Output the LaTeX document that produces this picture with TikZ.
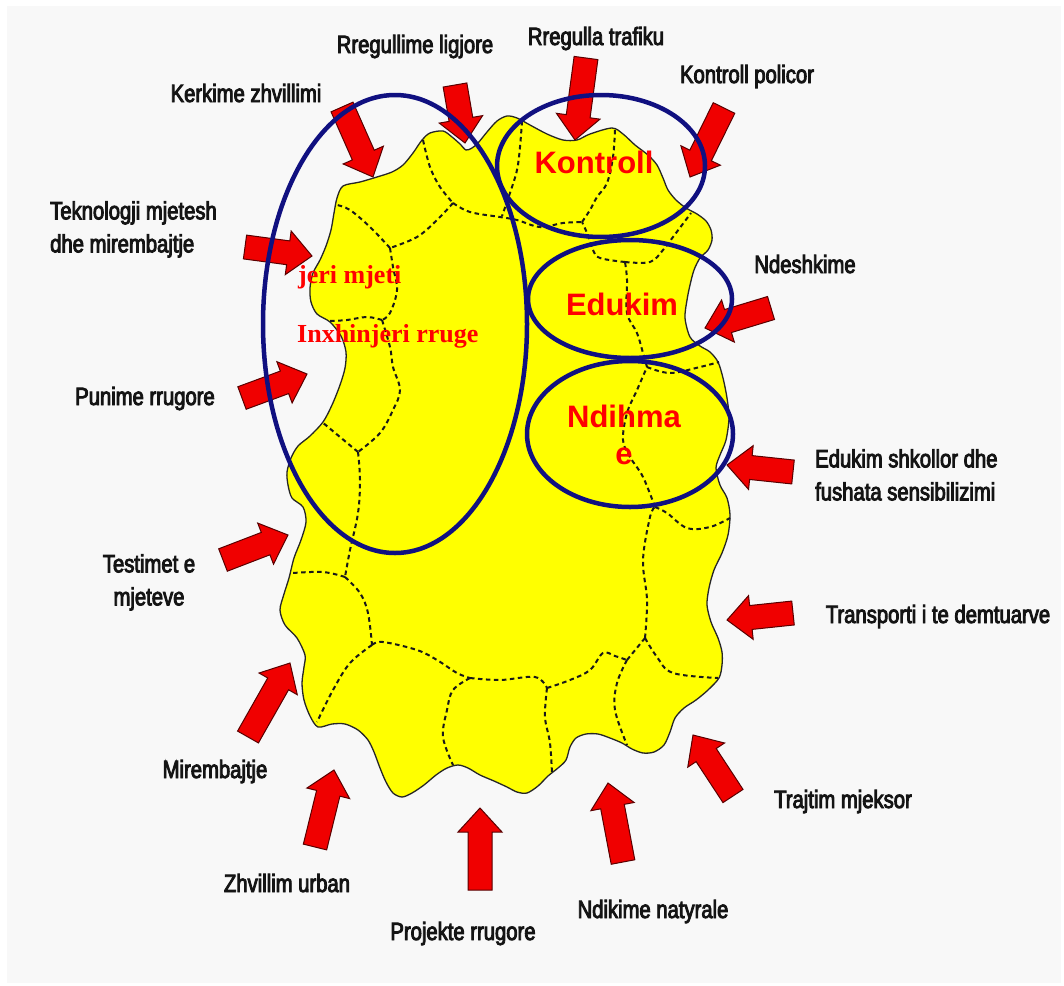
\documentclass[tikz,border=0pt]{standalone}
\usepackage{fontspec}
\setmainfont{Liberation Sans}
\newfontfamily\labfont{Liberation Sans}[FakeStretch=0.81,FakeBold=3.5]
\newfontfamily\serfont{Liberation Serif}
\usetikzlibrary{calc}
\definecolor{blobyellow}{RGB}{255,255,0}
\definecolor{navyring}{RGB}{16,16,128}
\definecolor{arrowred}{RGB}{240,0,0}
\definecolor{txtred}{RGB}{255,0,0}
\definecolor{bggray}{RGB}{248,248,248}
\definecolor{labblack}{RGB}{20,20,20}
\newcommand\blockarrow[2]{%
  \coordinate (#2b) at ($(#2)!24pt!(#1)$);
  \draw[arr] ($(#1)!12pt!90:(#2)$) -- ($(#2b)!12pt!90:(#2)$) -- ($(#2b)!22pt!90:(#2)$) -- (#2)
    -- ($(#2b)!22pt!-90:(#2)$) -- ($(#2b)!12pt!-90:(#2)$) -- ($(#1)!12pt!-90:(#2)$) -- cycle;
}
\begin{document}
\begin{tikzpicture}[x=1pt,y=-1pt,
  lab/.style={font={\labfont\fontsize{25}{33}\selectfont}, text=labblack, inner sep=0pt},
  redlab/.style={font={\bfseries\fontsize{31}{37}\selectfont}, text=txtred, inner sep=0pt},
  serlab/.style={font={\serfont\bfseries\fontsize{26}{30}\selectfont}, text=txtred, inner sep=0pt, anchor=base west},
  ring/.style={draw=navyring, line width=4.5pt},
  seam/.style={draw=black!90, line width=2pt, dash pattern=on 4.5pt off 3.5pt},
  blob/.style={fill=blobyellow, draw=black!85, line width=1.3pt},
  arr/.style={fill=arrowred, draw=black!65!red, line width=1pt, line join=miter}]
\useasboundingbox (0,0) rectangle (1064,985);
\fill[white] (0,0) rectangle (1064,985);
\fill[bggray] (7,6) rectangle (1061,983);

% yellow blob
\draw[blob] plot[smooth cycle, tension=0.5] coordinates {
(337,198) (343,186) (360,182) (377,177) (392,172) (403,165) (413,153) (422,140) (430,133) (443,131) (452,137) (460,144) (466,150) (472,148) (478,143) (487,132) (497,121) (507,116) (517,118) (530,125) (547,134) (563,140) (577,140) (590,134) (612,128) (623,134) (635,145) (648,155) (657,165) (663,178) (668,190) (676,200) (686,208) (697,214) (706,221) (711,230) (712,240) (708,250) (700,258) (694,270) (690,285) (687,300) (685,318) (690,337) (700,346) (710,352) (718,362) (723,378) (727,398) (729,418) (726,440) (720,455) (716,468) (720,485) (727,498) (730,515) (728,535) (722,553) (714,570) (709,588) (707,605) (711,622) (718,638) (722,652) (722,665) (719,678) (708,690) (696,700) (684,708) (675,718) (670,732) (664,745) (654,752) (643,753) (632,749) (622,743) (610,738) (598,734) (586,734) (576,738) (570,747) (566,760) (558,768) (548,776) (538,786) (527,793) (517,792) (507,787) (494,781) (480,775) (468,768) (458,765) (447,768) (436,775) (424,785) (412,793) (402,797) (393,793) (386,782) (380,768) (374,752) (368,740) (358,730) (345,724) (332,724) (318,727) (310,716) (304,700) (302,683) (304,667) (305,655) (297,638) (285,625) (280,610) (284,594) (289,578) (294,558) (301,540) (306,522) (303,507) (292,498) (288,485) (287,472) (291,458) (298,446) (310,436) (323,422) (332,405) (340,385) (345,368) (346,352) (341,336) (330,322) (317,314) (311,302) (310,288) (313,273) (320,260) (326,246) (331,230) (334,213)};

% dashed seams
\draw[seam] plot[smooth, tension=0.6] coordinates {(423,140) (430,167) (440,187) (453,203)};
\draw[seam] plot[smooth, tension=0.6] coordinates {(453,203) (470,212) (500,217) (517,220) (540,227) (563,223) (582,222)};
\draw[seam] plot[smooth, tension=0.6] coordinates {(453,203) (437,220) (417,237) (390,248)};
\draw[seam] plot[smooth, tension=0.6] coordinates {(390,248) (370,227) (350,210) (337,205)};
\draw[seam] plot[smooth, tension=0.6] coordinates {(390,248) (393,267) (397,290) (390,313) (382,320)};
\draw[seam] plot[smooth, tension=0.6] coordinates {(382,320) (367,317) (347,320) (330,321)};
\draw[seam] plot[smooth, tension=0.6] coordinates {(382,320) (390,347) (393,367) (400,390) (393,410) (380,433) (358,452)};
\draw[seam] plot[smooth, tension=0.6] coordinates {(358,452) (340,437) (322,422)};
\draw[seam] plot[smooth, tension=0.6] coordinates {(358,452) (360,480) (358,513) (350,550) (345,577)};
\draw[seam] plot[smooth, tension=0.6] coordinates {(345,577) (323,572) (293,573)};
\draw[seam] plot[smooth, tension=0.6] coordinates {(345,577) (360,593) (368,613) (372,645)};
\draw[seam] plot[smooth, tension=0.6] coordinates {(372,645) (350,663) (333,690) (317,722)};
\draw[seam] plot[smooth, tension=0.6] coordinates {(372,645) (383,642) (417,650) (437,660) (457,673) (470,678)};
\draw[seam] plot[smooth, tension=0.6] coordinates {(470,678) (453,690) (447,710) (443,737) (453,765)};
\draw[seam] plot[smooth, tension=0.6] coordinates {(470,678) (500,680) (535,677) (547,688)};
\draw[seam] plot[smooth, tension=0.6] coordinates {(547,688) (545,717) (550,743) (552,774)};
\draw[seam] plot[smooth, tension=0.6] coordinates {(547,688) (570,680) (590,670) (603,653) (615,656) (627,660)};
\draw[seam] plot[smooth, tension=0.6] coordinates {(627,660) (617,683) (615,710) (627,745)};
\draw[seam] plot[smooth, tension=0.6] coordinates {(627,660) (636,649) (645,638)};
\draw[seam] plot[smooth, tension=0.6] coordinates {(645,638) (657,657) (673,673) (718,678)};
\draw[seam] plot[smooth, tension=0.6] coordinates {(645,638) (647,600) (643,560) (650,517) (655,507)};
\draw[seam] plot[smooth, tension=0.6] coordinates {(655,507) (667,513) (687,528) (710,527) (730,518)};
\draw[seam] plot[smooth, tension=0.6] coordinates {(655,507) (643,477) (630,457) (623,440) (627,413) (637,390) (647,367)};
\draw[seam] plot[smooth, tension=0.6] coordinates {(647,367) (670,373) (700,367) (719,362)};
\draw[seam] plot[smooth, tension=0.6] coordinates {(647,367) (643,353) (637,333) (627,313) (627,280) (625,262)};
\draw[seam] plot[smooth, tension=0.6] coordinates {(625,262) (600,258) (593,250) (587,233) (582,222)};
\draw[seam] plot[smooth, tension=0.6] coordinates {(625,262) (650,262) (663,250) (673,237) (691,213)};
\draw[seam] plot[smooth, tension=0.6] coordinates {(582,222) (590,210) (597,197) (607,183) (613,157) (615,129)};
\draw[seam] plot[smooth, tension=0.6] coordinates {(522,121) (520,147) (517,170) (510,193) (502,216)};

% arrows
\coordinate (kerkT) at (342,107);  \coordinate (kerkH) at (373,177);
\coordinate (rligT) at (455,85);   \coordinate (rligH) at (465,143);
\coordinate (rtrfT) at (586,58);   \coordinate (rtrfH) at (575,140);
\coordinate (kpolT) at (724,108);  \coordinate (kpolH) at (690,177);
\coordinate (teknT) at (245,247);  \coordinate (teknH) at (312,256);
\coordinate (ndesT) at (771,308);  \coordinate (ndesH) at (705,328);
\coordinate (punT) at (242,398);   \coordinate (punH) at (307,374);
\coordinate (edukT) at (793,472);  \coordinate (edukH) at (727,465);
\coordinate (testT) at (223,560);  \coordinate (testH) at (288,535);
\coordinate (trspT) at (793,613);  \coordinate (trspH) at (727,620);
\coordinate (mirT) at (248,737);   \coordinate (mirH) at (290,663);
\coordinate (trajT) at (733,796);  \coordinate (trajH) at (693,735);
\coordinate (zhvT) at (315,847);   \coordinate (zhvH) at (334,770);
\coordinate (projT) at (480,890);  \coordinate (projH) at (480,808);
\coordinate (ndikT) at (623,862);  \coordinate (ndikH) at (608,783);
\blockarrow{kerkT}{kerkH}
\blockarrow{rligT}{rligH}
\blockarrow{rtrfT}{rtrfH}
\blockarrow{kpolT}{kpolH}
\blockarrow{teknT}{teknH}
\blockarrow{ndesT}{ndesH}
\blockarrow{punT}{punH}
\blockarrow{edukT}{edukH}
\blockarrow{testT}{testH}
\blockarrow{trspT}{trspH}
\blockarrow{mirT}{mirH}
\blockarrow{trajT}{trajH}
\blockarrow{zhvT}{zhvH}
\blockarrow{projT}{projH}
\blockarrow{ndikT}{ndikH}

% labels
\node[lab, anchor=base] (lkerk) at (246,102) {Kerkime zhvillimi};
\node[lab, anchor=base] (lrlig) at (415,53) {Rregullime ligjore};
\node[lab, anchor=base] (lrtrf) at (596,45) {Rregulla trafiku};
\node[lab, anchor=base] (lkpol) at (747,83) {Kontroll policor};
\node[lab, anchor=north west, align=left] (ltekn) at (50,201) {Teknologji mjetesh\\dhe mirembajtje};
\node[lab, anchor=base] (lndes) at (805,273) {Ndeshkime};
\node[lab, anchor=base] (lpun) at (145,405) {Punime rrugore};
\node[lab, anchor=north west, align=left] (leduk) at (815,449) {Edukim shkollor dhe\\fushata sensibilizimi};
\node[lab, anchor=north, align=center] (ltest) at (149,554) {Testimet e\\mjeteve};
\node[lab, anchor=base] (ltrsp) at (938,623) {Transporti i te demtuarve};
\node[lab, anchor=base] (lmir) at (215,778) {Mirembajtje};
\node[lab, anchor=base] (ltraj) at (843,808) {Trajtim mjeksor};
\node[lab, anchor=base] (lzhv) at (287,892) {Zhvillim urban};
\node[lab, anchor=base] (lndik) at (653,918) {Ndikime natyrale};
\node[lab, anchor=base] (lproj) at (463,940) {Projekte rrugore};

% red texts
\node[serlab] (tjeri) at (298,283) {jeri mjeti};
\node[serlab] (tinx) at (297,342) {Inxhinjeri rruge};
\node[redlab, anchor=base] (tkontr) at (594,173) {Kontroll};
\node[redlab, anchor=base] (tedu) at (622,315) {Edukim};
\node[redlab, anchor=north, align=center] (tndih) at (624,405) {Ndihma\\e};

% rings
\draw[ring] (395,324) ellipse [x radius=132, y radius=229];
\draw[ring] (601,166) ellipse [x radius=104, y radius=71];
\draw[ring] (630,299) ellipse [x radius=102, y radius=59];
\draw[ring] (630,434) ellipse [x radius=103, y radius=73];
\end{tikzpicture}
\end{document}
